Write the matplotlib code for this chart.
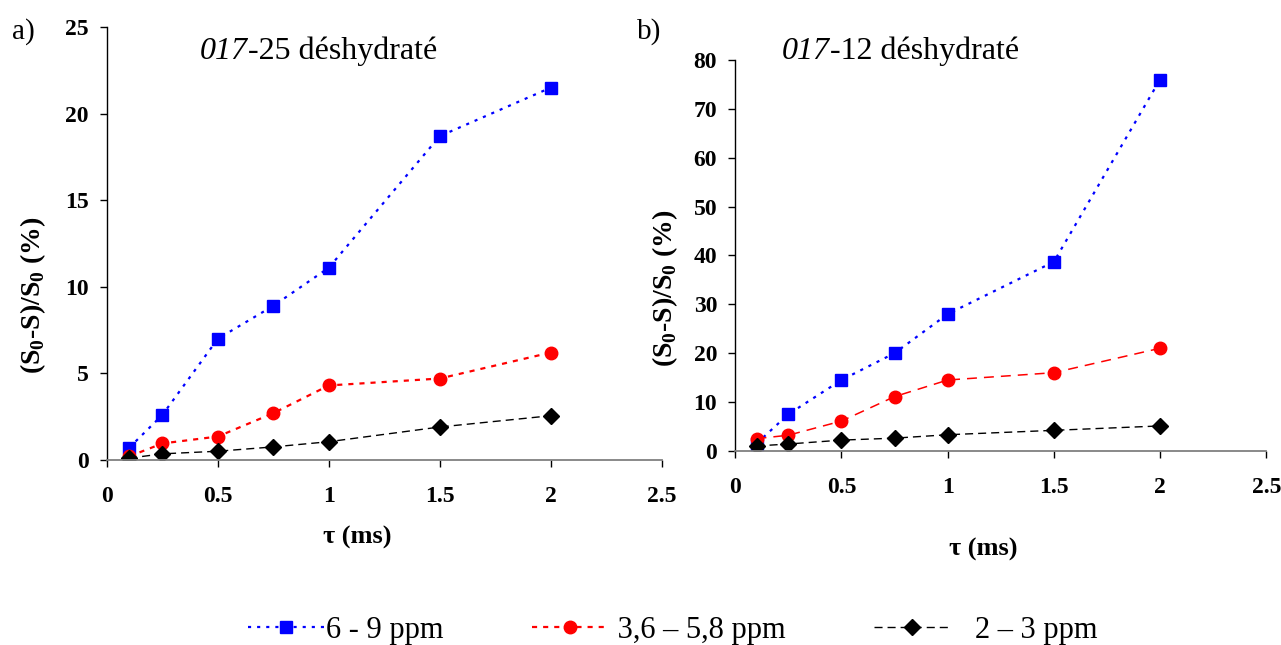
"""Relaxation curves, 017-25 and 017-12 deshydrate"""
import matplotlib
matplotlib.use('Agg')
import matplotlib.pyplot as plt

plt.rcParams['font.family'] = ['Liberation Serif', 'DejaVu Serif']
plt.rcParams['mathtext.fontset'] = 'custom'
plt.rcParams['mathtext.rm'] = 'Liberation Serif'
plt.rcParams['mathtext.bf'] = 'Liberation Serif:bold'

# data
tau = [0.1, 0.25, 0.5, 0.75, 1.0, 1.5, 2.0]
series_labels = ['6 - 9 ppm', '3,6 – 5,8 ppm', '2 – 3 ppm']

a_69 = [0.7, 2.6, 7.0, 8.9, 11.1, 18.7, 21.5]
a_36 = [0.2, 0.95, 1.35, 2.7, 4.3, 4.7, 6.2]
a_23 = [0.1, 0.35, 0.5, 0.75, 1.05, 1.9, 2.55]

b_69 = [1.5, 7.5, 14.5, 20.0, 28.0, 38.7, 76.0]
b_36 = [2.5, 3.2, 6.1, 11.1, 14.5, 16.0, 21.0]
b_23 = [1.0, 1.4, 2.2, 2.6, 3.3, 4.2, 5.1]

ylabel = r'(S$_\mathbf{0}$-S)/S$_\mathbf{0}$ (%)'


def style_axes(ax, ymax, ystep):
    ax.set_xlim(0, 2.5)
    ax.set_ylim(0, ymax)
    ax.set_xticks([0, 0.5, 1, 1.5, 2, 2.5])
    ax.set_xticklabels(['0', '0.5', '1', '1.5', '2', '2.5'])
    ax.set_yticks(range(0, ymax + 1, ystep))
    for s in ['top', 'right']:
        ax.spines[s].set_visible(False)
    ax.spines['left'].set_color('black')
    ax.spines['bottom'].set_color('#808080')
    ax.spines['left'].set_linewidth(1.0)
    ax.spines['bottom'].set_linewidth(1.3)
    ax.tick_params(axis='both', direction='out', length=5, width=1.0,
                   color='black', labelsize=17)
    ax.tick_params(axis='x', pad=14)
    ax.tick_params(axis='y', pad=8)
    for lab in ax.get_xticklabels() + ax.get_yticklabels():
        lab.set_fontweight('bold')
    ax.set_ylabel(ylabel, fontsize=20, fontweight='bold')
    ax.set_xlabel('τ (ms)', fontsize=19, fontweight='bold')


def plot_series(ax, s69, s36, s23, red_ls, red_lw):
    ax.plot(tau, s69, color='blue', ls=(0, (1.4, 2.7)), lw=1.6, marker='s',
            ms=9, label=series_labels[0])
    ax.plot(tau, s36, color='red', ls=red_ls, lw=red_lw, marker='o', ms=9,
            label=series_labels[1])
    ax.plot(tau, s23, color='black', ls=(0, (5.8, 3.6)), lw=1.0, marker='D',
            ms=8, label=series_labels[2])


def add_title(ax, x, y, rest):
    t1 = ax.text(x, y, '017', transform=ax.transAxes, ha='left', va='bottom',
                 fontsize=23, fontstyle='italic')
    ax.annotate(rest, xy=(1, 0), xycoords=t1, ha='left', va='bottom',
                fontsize=23)


fig = plt.figure(figsize=(12.81, 6.45), dpi=100)
ax1 = fig.add_axes([0.0835, 0.287, 0.433, 0.671])
ax2 = fig.add_axes([0.574, 0.301, 0.4145, 0.606])

plot_series(ax1, a_69, a_36, a_23, (0, (2.3, 2.7)), 1.6)
plot_series(ax2, b_69, b_36, b_23, (0, (6.5, 4.6)), 1.1)

style_axes(ax1, 25, 5)
style_axes(ax2, 80, 10)

ax1.xaxis.set_label_coords(0.452, -0.152)
ax2.xaxis.set_label_coords(0.467, -0.223)
ax1.yaxis.set_label_coords(-0.106, 0.38)
ax2.yaxis.set_label_coords(-0.105, 0.417)

add_title(ax1, 0.168, 0.91, '-25 déshydraté')
add_title(ax2, 0.088, 0.985, '-12 déshydraté')

fig.text(0.009, 0.951, 'a)', fontsize=21, va='center')
fig.text(0.497, 0.951, 'b)', fontsize=21, va='center')

handles, labels = ax1.get_legend_handles_labels()
pads = ['', ' ', '   ']
labels = [p + lab for p, lab in zip(pads, labels)]
fig.legend(handles, labels, loc='center', bbox_to_anchor=(0.525, 0.023),
           ncol=3, frameon=False, fontsize=22, handlelength=2.5,
           columnspacing=2.9, handletextpad=0.05)

fig.savefig('out.png', dpi=100)
plt.close(fig)
